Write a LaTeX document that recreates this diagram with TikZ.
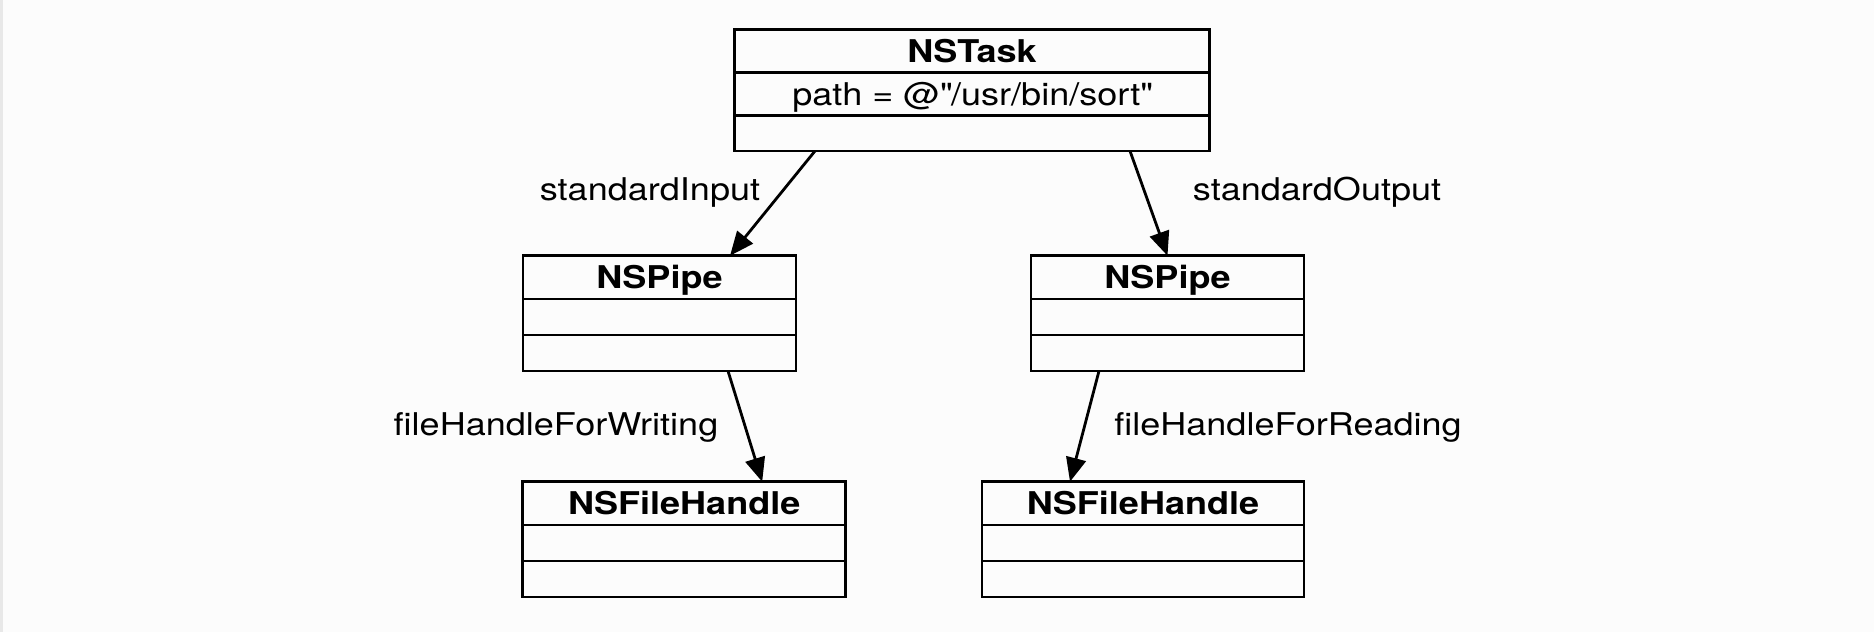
\documentclass[tikz,border=0pt]{standalone}
\usepackage{fontspec}
\setmainfont{TeX Gyre Heros}[FakeStretch=1.15]
\usetikzlibrary{positioning, arrows.meta}

\begin{document}
\begin{tikzpicture}[x=0.75pt, y=-0.75pt,
    every node/.style={font=\fontsize{23.5}{28}\selectfont},
    part/.style={draw, line width=2.1pt, outer sep=0pt, inner sep=0pt, minimum height=27pt,
                 text height=17pt, text depth=0pt},
    head/.style={part, font=\fontsize{23.5}{28}\selectfont\bfseries, minimum height=32.5pt},
    link/.style={line width=2.1pt, -{Triangle[length=18pt, width=15pt]}},
    role/.style={inner sep=0pt}]
    % 0. Page
    \fill[black!1] (0,0) rectangle (1874,632);
    \fill[black!9] (0,0) rectangle (3,632);
    \useasboundingbox (0,0) rectangle (1874,632);

    % 1. NSTask
    \node[head, minimum width=356.25pt] (task) at (972,51) {NSTask};
    \node[part, minimum width=356.25pt, minimum height=32.25pt, below=0pt of task] (taskPath) {path = @\textquotedbl/usr/bin/sort\textquotedbl};
    \node[part, minimum width=356.25pt, minimum height=26.5pt, below=0pt of taskPath] (taskOps) {};

    % 2. The two pipes
    \node[head, minimum width=204.75pt] (pipeL) at (659.5,277.4) {NSPipe};
    \node[part, minimum width=204.75pt, below=0pt of pipeL] (pipeLAttr) {};
    \node[part, minimum width=204.75pt, below=0pt of pipeLAttr] (pipeLOps) {};

    \node[head, minimum width=204.75pt] (pipeR) at (1167.5,277.4) {NSPipe};
    \node[part, minimum width=204.75pt, below=0pt of pipeR] (pipeRAttr) {};
    \node[part, minimum width=204.75pt, below=0pt of pipeRAttr] (pipeROps) {};

    % 3. The two file handles
    \node[head, minimum width=242.25pt] (fhL) at (684.2,503.4) {NSFileHandle};
    \node[part, minimum width=242.25pt, below=0pt of fhL] (fhLAttr) {};
    \node[part, minimum width=242.25pt, below=0pt of fhLAttr] (fhLOps) {};

    \node[head, minimum width=241.5pt] (fhR) at (1143,503.4) {NSFileHandle};
    \node[part, minimum width=241.5pt, below=0pt of fhR] (fhRAttr) {};
    \node[part, minimum width=241.5pt, below=0pt of fhRAttr] (fhROps) {};

    % 4. Arrows
    \draw[link] ([xshift=-117.75pt]taskOps.south) -- ([xshift=52.9pt]pipeL.north);
    \draw[link] ([xshift=118.5pt]taskOps.south) -- (pipeR.north);
    \draw[link] ([xshift=51.4pt]pipeLOps.south) -- ([xshift=58.5pt]fhL.north);
    \draw[link] ([xshift=-51.4pt]pipeROps.south) -- ([xshift=-54.75pt]fhR.north);

    % 5. Labels
    \node[role] (inLabel) at (650,192) {standardInput};
    \node[role] (outLabel) at (1317,192) {standardOutput};
    \node[role] (writeLabel) at (556,427) {fileHandleForWriting};
    \node[role] (readLabel) at (1288,427) {fileHandleForReading};
\end{tikzpicture}
\end{document}
